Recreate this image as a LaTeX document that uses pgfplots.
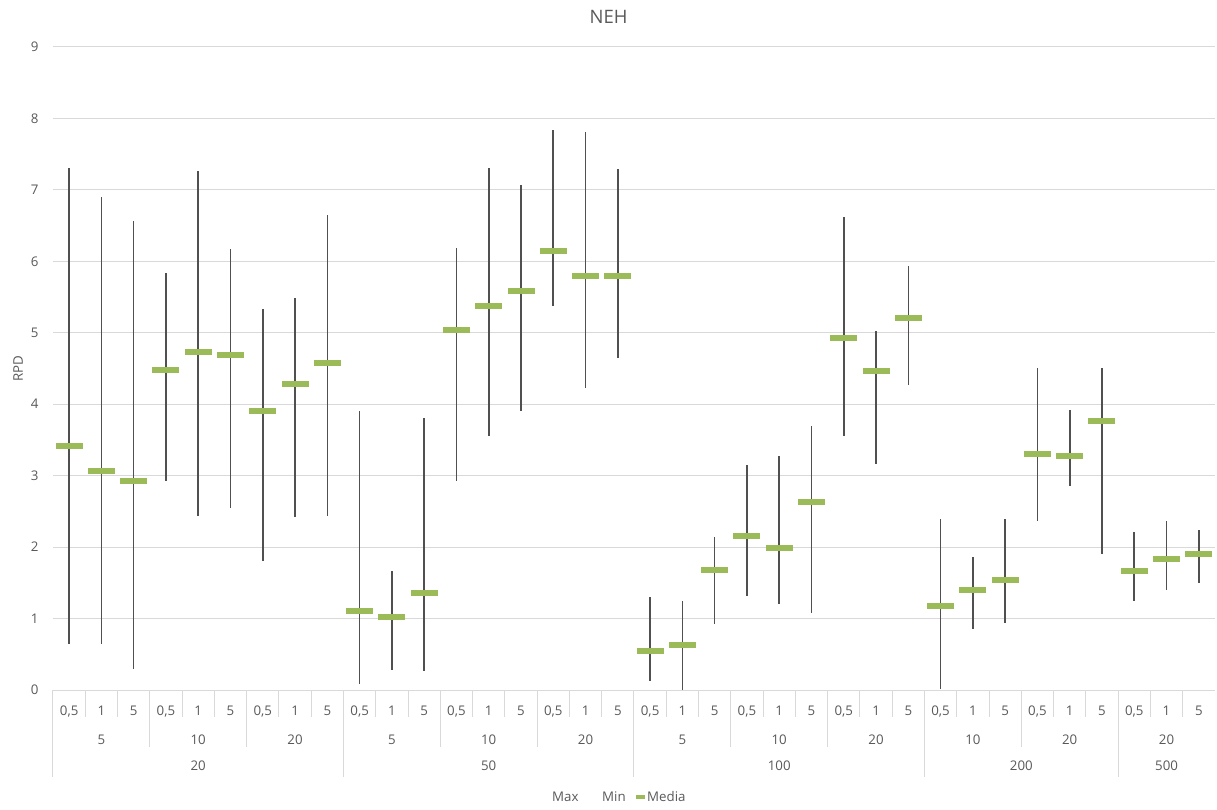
\documentclass[border=0pt]{standalone}
\usepackage{fontspec}
\setmainfont{Open Sans}
\usepackage{pgfplots}
\pgfplotsset{compat=1.18}
\definecolor{tc}{HTML}{595959}
\definecolor{gc}{HTML}{D9D9D9}
\definecolor{mg}{HTML}{9BBB59}
\definecolor{hl}{HTML}{505050}
\newcommand{\ticksz}{\fontsize{13.3bp}{16bp}\selectfont}
\begin{document}
\begin{tikzpicture}
\begin{axis}[
  at={(0bp,0bp)}, anchor=south west,
  scale only axis, width=1162bp, height=643bp,
  xmin=-0.5, xmax=35.5, ymin=0, ymax=9,
  clip=false,
  axis line style={draw=none},
  major tick length=0pt,
  ytick={0,1,...,9},
  ymajorgrids, grid style={gc, line width=1bp},
  xtick={0,1,...,35},
  xticklabels={{0,5},1,5,{0,5},1,5,{0,5},1,5,{0,5},1,5,{0,5},1,5,{0,5},1,5,{0,5},1,5,{0,5},1,5,{0,5},1,5,{0,5},1,5,{0,5},1,5,{0,5},1,5},
  xticklabel style={anchor=base, yshift=-25.5bp, font=\ticksz, text=tc},
  yticklabel style={anchor=east, xshift=-11bp, font=\ticksz, text=tc},
  /pgf/number format/assume math mode=true,
  title={NEH},
  every axis title/.style={at={(axis description cs:0.4781,1.0467)}, anchor=center, font=\fontsize{18.5bp}{22bp}\selectfont, text=tc},
  ylabel={RPD},
  every axis y label/.style={at={(axis description cs:-0.0301,0.5)}, rotate=90, anchor=center, font=\ticksz, text=tc},
]
\addplot[only marks, mark=-, mark size=13.5bp, mark options={mg, line width=6bp},
  error bars/.cd, y dir=both, y explicit, error mark=none, error bar style={hl, line width=1.6bp}]
  table[x=x, y=med, y error plus expr=\thisrow{max}-\thisrow{med}, y error minus expr=\thisrow{med}-\thisrow{min}] {
x max min med
0 7.30 0.65 3.42
1 6.90 0.65 3.07
2 6.57 0.30 2.93
3 5.84 2.93 4.48
4 7.27 2.44 4.73
5 6.17 2.55 4.69
6 5.33 1.80 3.90
7 5.49 2.42 4.28
8 6.65 2.43 4.57
9 3.90 0.08 1.11
10 1.67 0.28 1.02
11 3.81 0.27 1.36
12 6.19 2.93 5.04
13 7.30 3.56 5.37
14 7.07 3.90 5.59
15 7.84 5.37 6.14
16 7.81 4.23 5.80
17 7.29 4.65 5.79
18 1.30 0.13 0.54
19 1.25 0.00 0.63
20 2.14 0.93 1.68
21 3.15 1.31 2.15
22 3.27 1.20 1.99
23 3.69 1.08 2.63
24 6.62 3.55 4.93
25 5.02 3.17 4.47
26 5.94 4.27 5.21
27 2.39 0.02 1.18
28 1.86 0.85 1.40
29 2.39 0.94 1.54
30 4.51 2.37 3.31
31 3.92 2.86 3.28
32 4.51 1.90 3.77
33 2.21 1.25 1.67
34 2.36 1.40 1.84
35 2.24 1.50 1.91
};
% separators
\pgfplotsinvokeforeach{1,2,...,35}{
  \draw[gc, line width=1bp] (axis cs:#1-0.5,0) -- ++(0bp,-27bp);
}
\pgfplotsinvokeforeach{3,6,12,15,21,24,30}{
  \draw[gc, line width=1bp] (axis cs:#1-0.5,0) -- ++(0bp,-57bp);
}
\pgfplotsinvokeforeach{0,9,18,27,33}{
  \draw[gc, line width=1bp] (axis cs:#1-0.5,0) -- ++(0bp,-87bp);
}
% second row
\pgfplotsinvokeforeach{1,10,19}{
  \node[anchor=base, font=\ticksz, text=tc, yshift=-54.5bp] at (axis cs:#1,0) {5};
}
\pgfplotsinvokeforeach{4,13,22,28}{
  \node[anchor=base, font=\ticksz, text=tc, yshift=-54.5bp] at (axis cs:#1,0) {10};
}
\pgfplotsinvokeforeach{7,16,25,31,34}{
  \node[anchor=base, font=\ticksz, text=tc, yshift=-54.5bp] at (axis cs:#1,0) {20};
}
% third row
\node[anchor=base, font=\ticksz, text=tc, yshift=-80.5bp] at (axis cs:4,0) {20};
\node[anchor=base, font=\ticksz, text=tc, yshift=-80.5bp] at (axis cs:13,0) {50};
\node[anchor=base, font=\ticksz, text=tc, yshift=-80.5bp] at (axis cs:22,0) {100};
\node[anchor=base, font=\ticksz, text=tc, yshift=-80.5bp] at (axis cs:29.5,0) {200};
\node[anchor=base, font=\ticksz, text=tc, yshift=-80.5bp] at (axis cs:34,0) {500};
% legend
\node[anchor=base west, inner sep=0pt, font=\ticksz, text=tc] at ([xshift=499bp, yshift=-111.5bp]axis description cs:0,0) {Max};
\node[anchor=base west, inner sep=0pt, font=\ticksz, text=tc] at ([xshift=549bp, yshift=-111.5bp]axis description cs:0,0) {Min};
\fill[mg] ([xshift=583bp, yshift=-109bp]axis description cs:0,0) rectangle ([xshift=592bp, yshift=-105bp]axis description cs:0,0);
\node[anchor=base west, inner sep=0pt, font=\ticksz, text=tc] at ([xshift=594bp, yshift=-111.5bp]axis description cs:0,0) {Media};
\end{axis}
\pgfresetboundingbox
\path (-53bp,-120bp) rectangle (1164bp,690bp);
\end{tikzpicture}
\end{document}
